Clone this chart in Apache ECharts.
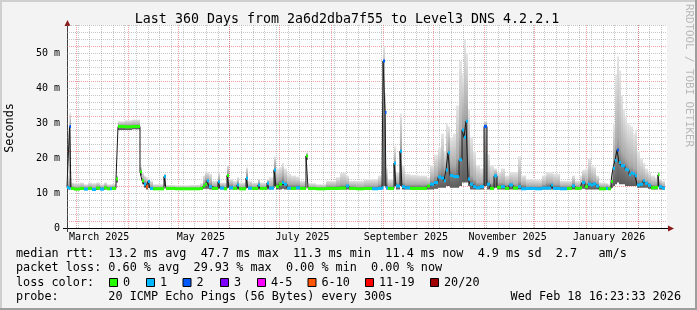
<!DOCTYPE html>
<html><head><meta charset="utf-8">
<script src="https://cdn.jsdelivr.net/npm/echarts@6/dist/echarts.min.js"></script>
<style>html,body{margin:0;padding:0;background:#f3f3f3}#c{width:697px;height:310px}</style>
</head><body><div id="c"></div>
<script>
// ---------------- data ----------------
const TITLE = 'Last 360 Days from 2a6d2dba7f55 to Level3 DNS 4.2.2.1';
const START = Date.UTC(2025, 1, 23, 16, 23, 33);   // graph start (360 days before end)
const SPAN_DAYS = 360;
const LAST_DAY = 358.8;                             // last sample end (days from start)
const Y_MAX = 58;                                   // ms

// step samples: day offset from START, value holds until next sample
const day = [0,1.2,1.5,2.4,4.2,7.8,10.2,12.6,15,17.4,19.8,22.2,24,25.8,27,29.4,30.6,34.8,39,43.8,
  45,46.2,47.4,48.6,49.8,51.6,58.2,59.4,64.8,73.8,79.8,81.6,82.8,84,85.2,87,90.6,91.8,94.2,96,
  97.2,99.6,102,103.2,107.4,108.6,111,114.6,115.8,120,121.2,124.2,125.4,127.2,129,130.2,132,134.4,137.4,139.8,
  143.4,144.6,149.4,155.4,161.4,163.8,167.4,169.2,173.4,178.2,183,186.6,189,189.6,190.8,191.4,192.6,196.2,197.4,199.8,
  201,202.8,205.8,210.6,216,217.8,220.2,222.6,224.4,226.2,227.4,228.6,229.8,231.6,233.4,235.2,237,238.2,239.4,240.6,
  241.8,243.6,245.4,247.8,250.2,252,253.8,256.2,258,260.4,262.8,265.2,267.6,270.6,272.4,275.4,280.8,285,287.4,290.4,
  291.6,295.8,300,303,304.8,307.8,309,310.8,312.6,314.4,315.6,317.4,319.2,323.4,324.6,326.4,327.6,328.8,330,331.2,
  332.4,333.6,334.8,336,337.2,338.4,339.6,340.8,342,343.8,345.6,346.8,348.6,350.4,352.8,354.6,355.2,357];
// median rtt (ms)
const median = [11.6,11.3,29,11.3,11.1,11.3,11.1,11.3,11.0,11.4,11.1,11.5,11.2,11.2,11.3,14,29,28.9,29,16.1,
  13.5,12.5,11.8,13.3,11.3,11.2,14.7,11.3,11.2,11.2,11.3,12,12.5,13.5,11.8,11.3,13.2,11.4,11.2,15,
  11.5,11.3,12.3,11.2,14.2,11.4,11.3,12.3,11.3,12.8,11.4,16.6,11.8,12.5,13,12.5,11.4,11.3,11.5,11.3,
  20.6,11.3,11.2,11.3,11.3,11.4,12,11.3,11.2,11.3,11.2,11.3,11.5,47.7,33,11.5,11.3,18.5,12,21.9,
  11.8,11.5,11.3,11.3,12,12.5,13,14.6,14.3,13.5,16.6,21.5,15,14.7,14.7,19.5,28,25.9,30.5,14,
  12.5,11.8,11.5,11.8,29,12.5,11.3,14.9,11.6,11.8,11.3,12.3,11.4,11.8,11.2,11.3,11.2,11.4,11.4,12.3,
  11.3,11.2,11.3,12,11.3,11.5,13,11.8,12.5,12.3,12.6,12,11.2,11.3,11.2,13.3,17.1,19.3,22.3,18.7,
  17.8,17.8,16.8,16.6,15.2,15.7,15.5,14.9,12.3,12.5,13.5,12.8,12.2,11.5,11.6,15.2,11.8,11.4];
// loss class index: 0 -> "0", 1 -> "1", 2 -> "2", ... 5 -> "6-10"
const lossIdx = [1,1,2,0,0,0,1,0,1,0,1,0,0,1,0,0,0,0,0,0,
  0,1,5,1,1,0,1,0,0,0,0,0,0,1,1,0,1,1,0,0,
  1,0,1,0,1,1,0,1,0,1,1,1,0,0,1,1,1,0,1,0,
  0,0,0,0,0,0,1,0,0,0,1,1,1,2,2,1,0,1,1,1,
  1,1,0,0,0,1,1,1,1,1,1,1,1,1,1,1,1,1,1,1,
  1,1,1,1,2,1,0,1,0,1,0,1,0,1,1,1,1,1,1,1,
  1,1,0,1,0,0,1,0,1,1,1,1,0,1,0,0,1,1,2,1,
  1,1,1,1,1,1,1,1,1,1,1,1,1,0,0,0,1,1];
// smoke: lowest ping, upper edge of dense core, highest ping (ms)
const smokeLo = [11,11,11.5,11,10.9,11,10.9,11,10.8,11,10.9,11,11,11,11,13,28,28,28.2,15,
  12.5,11.5,11,11.5,11,11,12,11,11,11,11,11.2,11.2,11.2,11,11,11.2,11,11,11.5,
  11,11,11,11,11.5,11,11,11,11,11,11,12,11,11,11.2,11,11,11,11,11,
  19.5,11,11,11,11,11,11,11,11,11,11,11,11,12,12,11,11,12,11,12,
  11,11,11,11,11,11,11.2,11.5,11.5,11.5,12,12,11.5,11.5,11.5,12,13,13,13,12,
  11,11,11,11,12,11,11,11.5,11,11,11,11,11,11,11,11,11,11,11,11,
  11,11,11,11,11,11,11.2,11,11,11,11,11,11,11,11,11.5,12,12.5,13,12.5,
  12.5,12.5,12,12,12,12,12,12,11.5,11.5,11.5,11.5,11.2,11,11,12,11,11];
const smokeMid = [12.5,12,30,11.8,11.6,11.8,11.7,11.8,11.6,12,11.7,12,11.7,11.7,11.8,14.5,29.5,29.5,29.6,16.5,
  14,13.5,13,13.5,12,11.6,15,11.5,11.5,11.5,11.6,13,14,14,13,12,14,12,11.7,16,
  12.5,12,13,11.7,15.5,12,11.8,13,11.8,13,12,18,13.5,14,15,13.5,12.5,12.5,12.5,12,
  21,11.7,11.6,12,12.2,12.5,12.5,12,11.8,12,12,12.5,14,45,33,13,12,19,13,24,
  13,12.5,12.5,12.5,12.5,14,15,17,18,17,20,24,18,18,20,26,32,33,34,20,
  15,14,13,13,30,14,13,15.5,13,13,12.5,13,12.5,13.5,12.5,12,12,12.5,13,13,
  12.5,12,12,13,12,12.5,14,13,14.5,14,13.5,13,11.8,12,11.8,14,20,24,26,24,
  22,21,20,19,18,18,17,17,14,14,14,13.5,13,12.5,12.5,15.5,12.5,12];
const smokeHi = [15,14,33,13,12.8,13,12.5,13,12.8,13,12.5,13,12.5,12.5,12.6,15,30.5,30.8,31,17.5,
  16,15,14.5,14,13.5,12.5,15.5,12.3,12.2,12.3,12.8,15,16.2,16,15.5,13.5,16,13,13,18,
  14,13.5,14.5,13,17.3,13.5,13,14,13,14,14.5,20.4,17,17.5,18.6,17,15.5,15,14.7,13.5,
  21.6,12.8,12.5,13.5,14.5,15.8,15,13.5,13.5,14,14,15,19,52,38.6,17,14,23.3,16,32.7,
  18,15.5,15.2,15,14.5,18,21,23,27,22,30,29,26,27,35,47.7,44,54,50,34,
  26,22,18,17,30.5,21,18,17,16,17,15,16,16,20.5,15,14,13.8,15,16,16,
  15.5,13.5,13.5,15,13.5,15,16.6,17,20,18,17.5,15,13,12.8,12.5,16,30,44,49,45,
  38,34,32,30,29.5,29,27,28,22,20,18.6,17,16,15,14.5,16,14,13.5];

const lossLabels = ['0','1','2','3','4-5','6-10','11-19','20/20'];
const lossColors = ['#26ff00','#00b8ff','#0059ff','#7e00ff','#ff00ff','#ff5500','#ff0000','#a10000'];
const monthNames = ['January','February','March','April','May','June','July','August','September','October','November','December'];

const legendLines = [
  'median rtt:  13.2 ms avg  47.7 ms max  11.3 ms min  11.4 ms now  4.9 ms sd  2.7   am/s',
  'packet loss: 0.60 % avg  29.93 % max  0.00 % min  0.00 % now',
  'loss color:',
  'probe:       20 ICMP Echo Pings (56 Bytes) every 300s'
];
const stamp = 'Wed Feb 18 16:23:33 2026';

// ---------------- chart ----------------
const MONO = 'DejaVu Sans Mono';
const DAY = 86400000;
const dayOf = t => (t - START) / DAY;
const GRID_MAJOR = 'rgba(224,80,80,0.55)';
const GRID_MINOR = 'rgba(143,143,143,0.5)';

const vgrid = [];
for (let t = Date.UTC(2025, 2, 2); dayOf(t) < SPAN_DAYS; t += 7 * DAY) vgrid.push([dayOf(t), 0]);
for (let m = 2; m <= 13; m++) vgrid.push([dayOf(Date.UTC(2025, m, 1)), 1]);
const labelDays = [];
for (let m = 2; m <= 12; m += 2) labelDays.push(dayOf(Date.UTC(2025, m, 15)));

const segs = day.map((d, i) => [d, i + 1 < day.length ? day[i + 1] : LAST_DAY, smokeLo[i], smokeMid[i], smokeHi[i], median[i], lossIdx[i]]);
const medLine = day.map((d, i) => [d, median[i]]).concat([[LAST_DAY, median[median.length - 1]]]);

const chart = echarts.init(document.getElementById('c'), null, {renderer: 'canvas', width: 697, height: 310});

const graphic = [
  {type:'rect', shape:{x:0,y:0,width:697,height:2}, style:{fill:'#cfcfcf'}, silent:true},
  {type:'rect', shape:{x:0,y:0,width:2,height:310}, style:{fill:'#cfcfcf'}, silent:true},
  {type:'rect', shape:{x:0,y:308,width:697,height:2}, style:{fill:'#9e9e9e'}, silent:true},
  {type:'rect', shape:{x:695,y:0,width:2,height:310}, style:{fill:'#9e9e9e'}, silent:true},
  {type:'text', x:347, y:19.5, style:{text:TITLE, fontFamily:MONO, fontSize:13.3, fill:'#000', align:'center', verticalAlign:'middle'}},
  {type:'text', x:10, y:128, rotation:Math.PI/2, style:{text:'Seconds', fontFamily:MONO, fontSize:11.8, fill:'#000', align:'center', verticalAlign:'middle'}},
  {type:'text', x:689, y:4, rotation:-Math.PI/2, style:{text:'RRDTOOL / TOBI OETIKER', fontFamily:MONO, fontSize:10.8, fill:'#b8b8b8', align:'left', verticalAlign:'middle'}},
  // axis extensions and arrows
  {type:'line', shape:{x1:63,y1:228.5,x2:672,y2:228.5}, style:{stroke:'#000',lineWidth:1}, silent:true},
  {type:'line', shape:{x1:67.5,y1:232,x2:67.5,y2:23}, style:{stroke:'#404040',lineWidth:1}, silent:true},
  {type:'polygon', shape:{points:[[64.5,26],[70.5,26],[67.5,20]]}, style:{fill:'#8b1a1a'}, silent:true},
  {type:'polygon', shape:{points:[[668,225.5],[668,231.5],[674,228.5]]}, style:{fill:'#8b1a1a'}, silent:true}
];
const lineY = [254, 268.3, 282.6, 296.9];
legendLines.forEach((t, i) => graphic.push({type:'text', x:16, y:lineY[i], style:{text:t, fontFamily:MONO, fontSize:11.8, fill:'#000', align:'left', verticalAlign:'middle'}}));
graphic.push({type:'text', x:681, y:lineY[3], style:{text:stamp, fontFamily:MONO, fontSize:11.8, fill:'#000', align:'right', verticalAlign:'middle'}});
const boxX = [109, 146, 182.5, 220, 257, 307.5, 365, 430];
lossLabels.forEach((l, i) => {
  graphic.push({type:'rect', shape:{x:boxX[i]+0.5, y:278.5, width:8, height:8}, style:{fill:lossColors[i], stroke:'#000', lineWidth:1}});
  graphic.push({type:'text', x:boxX[i]+14, y:lineY[2], style:{text:l, fontFamily:MONO, fontSize:11.8, fill:'#000', align:'left', verticalAlign:'middle'}});
});

chart.setOption({
  backgroundColor: '#f3f3f3',
  animation: false,
  grid: {left:67, right:30, top:25, bottom:82, show:true, backgroundColor:'#ffffff', borderWidth:0},
  xAxis: {
    type:'value', min:0, max:SPAN_DAYS,
    axisLine:{show:false}, axisTick:{show:false}, splitLine:{show:false},
    axisLabel:{
      customValues: labelDays, hideOverlap:false, showMinLabel:true, showMaxLabel:true,
      fontFamily:MONO, fontSize:10, color:'#000', margin:4,
      formatter: v => { const d = new Date(START + (v + 0.5) * DAY); return monthNames[d.getUTCMonth()] + ' ' + d.getUTCFullYear(); }
    }
  },
  yAxis: {
    type:'value', min:0, max:Y_MAX, interval:2,
    axisLine:{show:false}, axisTick:{show:false},
    axisLabel:{fontFamily:MONO, fontSize:10, color:'#000', margin:7,
      formatter: v => (Math.round(v) % 10 === 0 && Math.round(v) < Y_MAX) ? (v === 0 ? '0' : Math.round(v) + ' m') : ''},
    splitLine:{show:true, showMinLine:false, lineStyle:{color:[GRID_MAJOR, GRID_MINOR, GRID_MINOR, GRID_MINOR, GRID_MINOR], type:[1,1], width:1}}
  },
  series: [
    { type:'custom', name:'vgrid', z:1, silent:true, clip:true, data: vgrid, encode:{x:0},
      renderItem: (params, api) => {
        const x = Math.round(api.coord([api.value(0), 0])[0]) + 0.5;
        const cs = params.coordSys;
        return {type:'line', shape:{x1:x, y1:cs.y, x2:x, y2:cs.y + cs.height},
          style:{stroke: api.value(1) ? GRID_MAJOR : GRID_MINOR, lineWidth:1, lineDash:[1,1]}};
      } },
    { type:'custom', name:'smoke', z:2, silent:true, clip:true, data: segs, encode:{x:[0,1], y:[2,3,4]},
      renderItem: (params, api) => {
        const lo = api.value(2), mid = api.value(3), hi = api.value(4);
        const pLo = api.coord([api.value(0), lo]);
        const pR = api.coord([api.value(1), hi]);
        const x = pLo[0], w = Math.max(pR[0] - x, 1);
        const f = Math.min(Math.max((mid - lo) / Math.max(hi - lo, 0.01), 0.05), 0.95);
        const grad = new echarts.graphic.LinearGradient(0, 1, 0, 0, [
          {offset:0, color:'#5c5c5c'},
          {offset:f * 0.5, color:'#7a7a7a'},
          {offset:f, color:'#ababab'},
          {offset:1, color:'#e6e6e6'}
        ]);
        return {type:'rect', shape:{x, y:pR[1], width:w, height:pLo[1] - pR[1]}, style:{fill:grad}};
      } },
    { type:'line', name:'median', z:3, silent:true, data: medLine, step:'end', symbol:'none',
      lineStyle:{color:'#1a1a1a', width:1} },
    { type:'custom', name:'loss', z:4, silent:true, clip:true, data: segs, encode:{x:[0,1], y:5},
      renderItem: (params, api) => {
        const p0 = api.coord([api.value(0), api.value(5)]);
        const p1 = api.coord([api.value(1), api.value(5)]);
        return {type:'rect', shape:{x:p0[0], y:p0[1] - 1.5, width:Math.max(p1[0] - p0[0], 1.5), height:3},
          style:{fill: lossColors[api.value(6)]}};
      } }
  ],
  graphic
});
</script></body></html>
